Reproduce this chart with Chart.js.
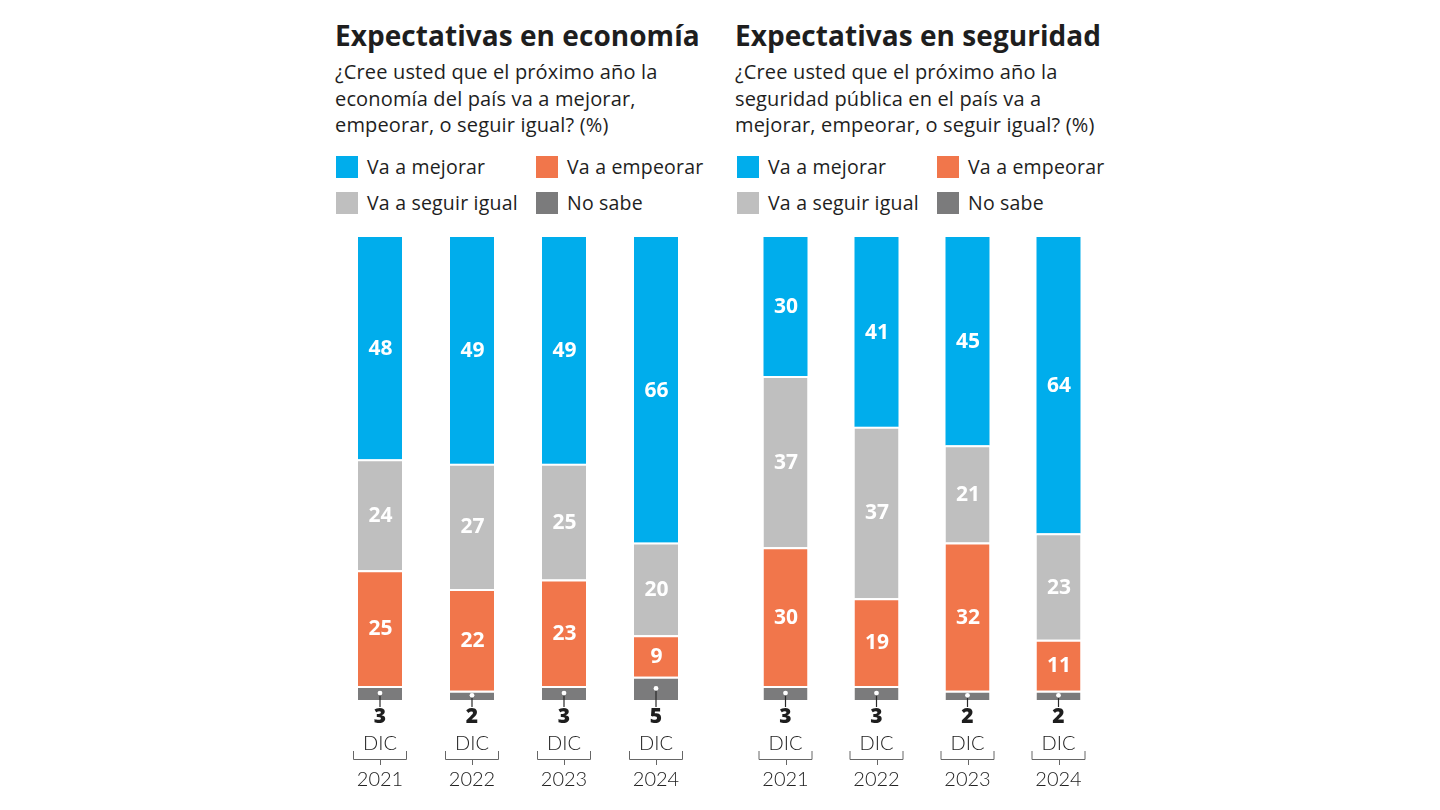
<!DOCTYPE html>
<html lang="es">
<head>
<meta charset="utf-8">
<title>Expectativas en economía y seguridad</title>
<script src="https://cdn.jsdelivr.net/npm/chart.js@4.4.1/dist/chart.umd.min.js"></script>
<style>
  html, body { margin: 0; padding: 0; background: #fff; }
  body { width: 1440px; height: 810px; position: relative; overflow: hidden; font-family: 'Open Sans', 'Lato', sans-serif; color: #1e1e1e; }
  .title { position: absolute; top: 16px; font-size: 28px; font-weight: 700; letter-spacing: 0.05px; white-space: nowrap; }
  .sub { position: absolute; top: 59px; font-size: 20px; line-height: 26.5px; letter-spacing: 0.15px; white-space: nowrap; }
  .legend { position: absolute; top: 156px; width: 380px; }
  .legend .item { position: absolute; font-size: 19.5px; line-height: 22px; letter-spacing: 0.2px; white-space: nowrap; }
  .legend .sw { display: inline-block; width: 22px; height: 22px; vertical-align: top; margin-right: 9px; }
  canvas { position: absolute; }
</style>
</head>
<body>
<div class="title" style="left:335px">Expectativas en economía</div>
<div class="sub" style="left:335px">¿Cree usted que el próximo año la<br>economía del país va a mejorar,<br>empeorar, o seguir igual? (%)</div>
<div class="legend" id="legendEcon" style="left:336px"></div>

<div class="title" style="left:735px">Expectativas en seguridad</div>
<div class="sub" style="left:735px">¿Cree usted que el próximo año la<br>seguridad pública en el país va a<br>mejorar, empeorar, o seguir igual? (%)</div>
<div class="legend" id="legendSeg" style="left:737px"></div>

<canvas id="econChart" width="368" height="570" style="left:334px; top:230px"></canvas>
<canvas id="segChart" width="364" height="570" style="left:740px; top:230px"></canvas>

<script>
// Data
const years = ['2021', '2022', '2023', '2024'];
const month = 'DIC';

const econMejorar = [48, 49, 49, 66];
const econIgual = [24, 27, 25, 20];
const econEmpeorar = [25, 22, 23, 9];
const econNoSabe = [3, 2, 3, 5];

const segMejorar = [30, 41, 45, 64];
const segIgual = [37, 37, 21, 23];
const segEmpeorar = [30, 19, 32, 11];
const segNoSabe = [3, 3, 2, 2];

const seriesNames = ['Va a mejorar', 'Va a empeorar', 'Va a seguir igual', 'No sabe'];
const seriesColors = ['#00adec', '#f1764b', '#bfbfbf', '#7b7b7c'];

// Legend (2 columns: mejorar / empeorar, seguir igual / no sabe)
function buildLegend(id) {
    const el = document.getElementById(id);
    seriesNames.forEach((name, i) => {
        const item = document.createElement('div');
        item.className = 'item';
        item.style.left = (i % 2 === 0 ? 0 : 200) + 'px';
        item.style.top = (i < 2 ? 0 : 36) + 'px';
        item.innerHTML = '<span class="sw" style="background:' + seriesColors[i] + '"></span>' + name;
        el.appendChild(item);
    });
}
buildLegend('legendEcon');
buildLegend('legendSeg');

// Segment labels, "No sabe" value under the bar, and DIC / year brackets
const barLabels = {
    id: 'barLabels',
    afterDatasetsDraw(chart) {
        const ctx = chart.ctx;
        const area = chart.chartArea;
        ctx.save();
        ctx.textAlign = 'center';
        ctx.textBaseline = 'middle';
        chart.data.datasets.forEach((ds, di) => {
            const meta = chart.getDatasetMeta(di);
            meta.data.forEach((bar, i) => {
                const v = ds.data[i];
                const cy = (bar.y + bar.base) / 2;
                if (ds.below) {
                    // line from dot to the value under the bar
                    ctx.strokeStyle = '#2a2a2a';
                    ctx.lineWidth = 1.2;
                    ctx.beginPath();
                    ctx.moveTo(bar.x, cy);
                    ctx.lineTo(bar.x, area.bottom + 7);
                    ctx.stroke();
                    ctx.fillStyle = '#fff';
                    ctx.beginPath();
                    ctx.arc(bar.x, cy, 2.4, 0, Math.PI * 2);
                    ctx.fill();
                    ctx.fillStyle = '#1e1e1e';
                    ctx.font = '800 21px "Open Sans", sans-serif';
                    ctx.fillText(v, bar.x, area.bottom + 17);
                } else {
                    ctx.fillStyle = '#fff';
                    ctx.font = '700 21px "Open Sans", sans-serif';
                    ctx.fillText(v, bar.x + 0.5, cy + 1);
                }
            });
        });
        const xs = chart.scales.x;
        chart.data.labels.forEach((lab, i) => {
            const x = xs.getPixelForValue(i);
            ctx.fillStyle = '#222';
            ctx.font = '300 20px "Lato", sans-serif';
            ctx.fillText(month, x, area.bottom + 44);
            ctx.fillText(lab, x, area.bottom + 80);
            ctx.strokeStyle = '#666';
            ctx.lineWidth = 1;
            ctx.beginPath();
            ctx.moveTo(x - 27 + 0.5, area.bottom + 51);
            ctx.lineTo(x - 27 + 0.5, area.bottom + 59.5);
            ctx.lineTo(x + 27 - 0.5, area.bottom + 59.5);
            ctx.lineTo(x + 27 - 0.5, area.bottom + 51);
            ctx.moveTo(Math.round(x) + 0.5, area.bottom + 59.5);
            ctx.lineTo(Math.round(x) + 0.5, area.bottom + 65);
            ctx.stroke();
        });
        ctx.restore();
    }
};

function makeChart(canvasId, mejorar, igual, empeorar, noSabe, catPct) {
    const ctx = document.getElementById(canvasId).getContext('2d');
    const seg = (label, data, color, top) => ({
        label: label,
        data: data,
        backgroundColor: color,
        borderColor: '#ffffff',
        borderWidth: top ? 0 : { top: 2, bottom: 0, left: 0, right: 0 },
        borderSkipped: false,
        barPercentage: 1,
        categoryPercentage: catPct
    });
    const noSabeSet = seg(seriesNames[3], noSabe, seriesColors[3], false);
    noSabeSet.below = true;
    return new Chart(ctx, {
        type: 'bar',
        data: {
            labels: years,
            datasets: [
                noSabeSet,
                seg(seriesNames[1], empeorar, seriesColors[1], false),
                seg(seriesNames[2], igual, seriesColors[2], false),
                seg(seriesNames[0], mejorar, seriesColors[0], true)
            ]
        },
        options: {
            responsive: false,
            animation: false,
            layout: { padding: { top: 7, bottom: 100, left: 0, right: 0 } },
            plugins: {
                legend: { display: false },
                tooltip: { enabled: false }
            },
            scales: {
                x: { stacked: true, display: false },
                y: { stacked: true, display: false, min: 0, max: 100 }
            }
        },
        plugins: [barLabels]
    });
}

makeChart('econChart', econMejorar, econIgual, econEmpeorar, econNoSabe, 44 / 92);
makeChart('segChart', segMejorar, segIgual, segEmpeorar, segNoSabe, 44 / 91);
</script>
</body>
</html>
